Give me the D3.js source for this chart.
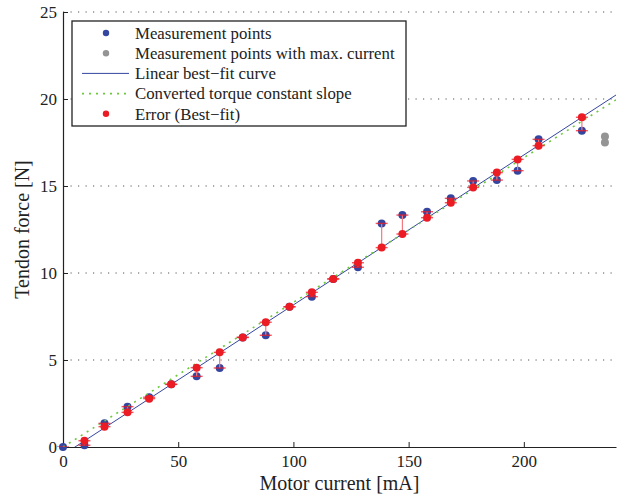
<!DOCTYPE html>
<html>
<head>
<meta charset="utf-8">
<script src="https://cdn.jsdelivr.net/npm/d3@7"></script>
<style>
  body { margin: 0; background: #fff; }
</style>
</head>
<body>
<div id="chart"></div>
<script>
// measured points [mA], [N]
const currents = [0, 9.3, 18, 28, 37.4, 47, 58, 68, 78, 88, 98.3, 108, 117.3, 128, 138.3, 147.3, 158, 168.3, 178, 188.3, 197.3, 206.4, 225.2]
const forces = [0, 0.1, 1.36, 2.32, 2.86, 3.6, 4.06, 4.54, 6.3, 6.42, 8.06, 8.64, 9.66, 10.33, 12.85, 13.33, 13.52, 14.29, 15.29, 15.34, 15.88, 17.68, 18.18]
// value of the best-fit line at each current (red points)
const fitted = [-0.45, 0.36, 1.17, 1.99, 2.78, 3.6, 4.56, 5.44, 6.3, 7.17, 8.06, 8.89, 9.66, 10.59, 11.46, 12.24, 13.18, 14.04, 14.92, 15.77, 16.53, 17.32, 18.95]
// points recorded at max. current
const maxCurrents = [235.2, 235.2]
const maxForces = [17.5, 17.85]
// line end points
const fitLine = [[0, -0.45], [240, 20.23]]
const torqueLine = [[0, 0], [240, 19.95]]
const xTicks = [0, 50, 100, 150, 200]
const yTicks = [0, 5, 10, 15, 20, 25]
const legendLabels = ["Measurement points", "Measurement points with max. current",
    "Linear best\u2212fit curve", "Converted torque constant slope", "Error (Best\u2212fit)"]

const width = 630
const height = 496
const margin = {top: 12, right: 14, bottom: 49, left: 63}
const font = "'Liberation Serif', 'Times New Roman', serif"

const blue = "#3446a0"
const red = "#ec1c24"
const gray = "#949494"
const green = "#6cc83c"

const svg = d3.select("#chart")
    .append("svg")
    .attr("width", width)
    .attr("height", height)
    .attr("font-family", font)

const x = d3.scaleLinear().domain([0, 240]).range([margin.left, width - margin.right])
const y = d3.scaleLinear().domain([0, 25]).range([height - margin.bottom, margin.top])

svg.append("clipPath").attr("id", "plotClip")
    .append("rect")
    .attr("x", margin.left - 6)
    .attr("y", margin.top - 6)
    .attr("width", width - margin.left - margin.right + 12)
    .attr("height", height - margin.top - margin.bottom + 6)

svg.append("clipPath").attr("id", "lineClip")
    .append("rect")
    .attr("x", margin.left)
    .attr("y", margin.top)
    .attr("width", width - margin.left - margin.right)
    .attr("height", height - margin.top - margin.bottom)

// horizontal dotted grid
svg.append("g")
    .selectAll("line")
    .data(yTicks.filter(d => d > 0))
    .enter()
    .append("line")
    .attr("x1", x(0))
    .attr("x2", x(240))
    .attr("y1", d => y(d))
    .attr("y2", d => y(d))
    .attr("stroke", "#555")
    .attr("stroke-width", 1)
    .attr("stroke-dasharray", "1.2,6.3")

// axes
const xAxis = svg.append("g")
    .attr("transform", "translate(0," + y(0) + ")")
    .call(d3.axisBottom(x).tickValues(xTicks).tickSizeInner(-5).tickSizeOuter(0).tickPadding(7))
const yAxis = svg.append("g")
    .attr("transform", "translate(" + x(0) + ",0)")
    .call(d3.axisLeft(y).tickValues(yTicks).tickSizeInner(-5).tickSizeOuter(0).tickPadding(6))

for (const ax of [xAxis, yAxis]) {
    ax.attr("font-family", font).attr("font-size", 17)
    ax.select(".domain").attr("stroke", "#222").attr("stroke-width", 1.2)
    ax.selectAll(".tick line").attr("stroke", "#222")
    ax.selectAll(".tick text").attr("fill", "#222")
}
xAxis.selectAll(".tick text").attr("dy", "0.78em")

svg.append("text")
    .attr("x", (x(0) + x(240)) / 2)
    .attr("y", 490)
    .attr("text-anchor", "middle")
    .attr("fill", "#222")
    .attr("font-size", 20)
    .text("Motor current [mA]")

svg.append("text")
    .attr("transform", "translate(29," + ((y(0) + y(25)) / 2) + ") rotate(-90)")
    .attr("text-anchor", "middle")
    .attr("fill", "#222")
    .attr("font-size", 20)
    .text("Tendon force [N]")

// measurement points
const points = currents.map((c, i) => ({x: c, y: forces[i], fit: fitted[i]}))

svg.append("g")
    .selectAll("circle")
    .data(points)
    .enter()
    .append("circle")
    .attr("cx", d => x(d.x))
    .attr("cy", d => y(d.y))
    .attr("r", 4)
    .attr("fill", blue)

svg.append("g")
    .selectAll("circle")
    .data(maxCurrents.map((c, i) => ({x: c, y: maxForces[i]})))
    .enter()
    .append("circle")
    .attr("cx", d => x(d.x))
    .attr("cy", d => y(d.y))
    .attr("r", 4)
    .attr("fill", gray)

// lines
const line = d3.line().x(d => x(d[0])).y(d => y(d[1]))

svg.append("path")
    .datum(fitLine)
    .attr("clip-path", "url(#lineClip)")
    .attr("d", line)
    .attr("fill", "none")
    .attr("stroke", blue)
    .attr("stroke-width", 1)

svg.append("path")
    .datum(torqueLine)
    .attr("clip-path", "url(#lineClip)")
    .attr("d", line)
    .attr("fill", "none")
    .attr("stroke", green)
    .attr("stroke-width", 1.6)
    .attr("stroke-dasharray", "2,5")

// error bars from fit to measurement
const err = svg.append("g").attr("clip-path", "url(#plotClip)")
    .selectAll("g")
    .data(points)
    .enter()
    .append("g")

err.append("line")
    .attr("x1", d => x(d.x))
    .attr("x2", d => x(d.x))
    .attr("y1", d => y(d.fit))
    .attr("y2", d => y(d.y))
    .attr("stroke", "#f07a80")
    .attr("stroke-width", 1.2)

err.selectAll("line.cap")
    .data(d => [{x: d.x, y: d.fit}, {x: d.x, y: d.y}])
    .enter()
    .append("line")
    .attr("class", "cap")
    .attr("x1", d => x(d.x) - 6)
    .attr("x2", d => x(d.x) + 6)
    .attr("y1", d => y(d.y))
    .attr("y2", d => y(d.y))
    .attr("stroke", red)
    .attr("stroke-opacity", 0.75)
    .attr("stroke-width", 1.4)

err.append("circle")
    .attr("cx", d => x(d.x))
    .attr("cy", d => y(d.fit))
    .attr("r", 4)
    .attr("fill", red)

// legend
const legend = svg.append("g")
legend.append("rect")
    .attr("x", 72)
    .attr("y", 21)
    .attr("width", 334)
    .attr("height", 105)
    .attr("fill", "#fff")
    .attr("stroke", "#222")
    .attr("stroke-width", 1.3)

const rows = legend.selectAll("g.row")
    .data(legendLabels)
    .enter()
    .append("g")
    .attr("class", "row")
    .attr("transform", (d, i) => "translate(0," + (33 + i * 20.2) + ")")

rows.append("text")
    .attr("x", 135)
    .attr("dy", "0.35em")
    .attr("fill", "#222")
    .attr("font-size", 16.8)
    .text(d => d)

rows.filter((d, i) => i === 0 || i === 1 || i === 4)
    .append("circle")
    .attr("cx", 106)
    .attr("r", 3.2)
    .attr("fill", (d, i) => [blue, gray, red][i])

rows.filter((d, i) => i === 2 || i === 3)
    .append("line")
    .attr("x1", 82)
    .attr("x2", 129)
    .attr("stroke", (d, i) => i === 0 ? blue : green)
    .attr("stroke-width", (d, i) => i === 0 ? 1 : 1.6)
    .attr("stroke-dasharray", (d, i) => i === 0 ? null : "2,5")
</script>
</body>
</html>
